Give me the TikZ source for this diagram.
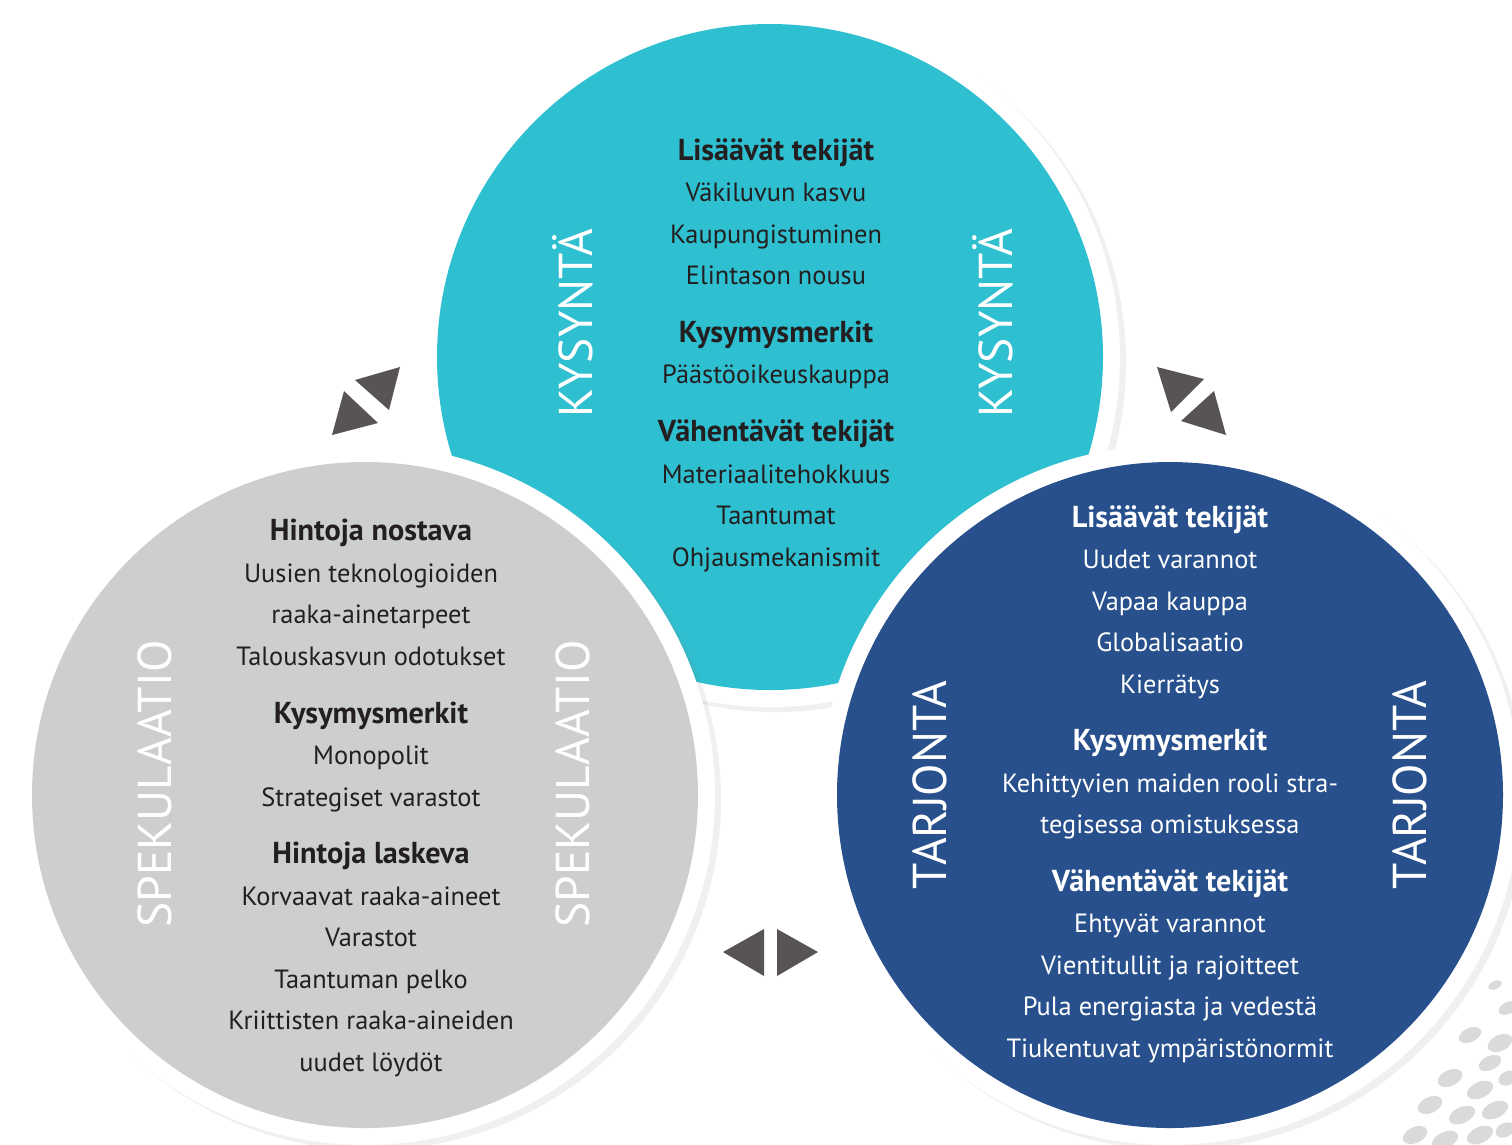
\documentclass[tikz,border=0pt]{standalone}
\usepackage{fontspec}
\setmainfont{PT Sans}
\usetikzlibrary{shadows}
\definecolor{kysynta}{RGB}{46,191,208}
\definecolor{tarjonta}{RGB}{39,80,140}
\definecolor{spekul}{RGB}{205,206,208}
\definecolor{nuoli}{RGB}{88,84,86}
\definecolor{teksti}{RGB}{35,31,32}
\definecolor{pisteet}{RGB}{218,218,218}
\newcommand{\vahva}[1]{{\fontsize{8.6}{11.8}\selectfont\bfseries #1}}

\begin{document}
\begin{tikzpicture}[x=0.01cm,y=-0.01cm,
	rengas/.style={white,drop shadow={opacity=0.12,shadow xshift=0.6mm,shadow yshift=-0.5mm}},
	lista/.style={align=center,font=\fontsize{7.5}{11.8}\selectfont},
	otsake/.style={rotate=90,white,font=\fontsize{13.5}{14}\selectfont},
	nuolet/.style={fill=nuoli}]
	\useasboundingbox (0,0) rectangle (1512,1144);
	\clip (0,0) rectangle (1512,1144);
	\foreach \x/\y/\a/\b in {1495/985/7/4,1508/1008/10/6,1470/1035/12/7,1500/1043/13/8,
		1490/1063/12/7,1450/1078/13/8,1480/1090/14/8,1508/1078/10/7,1430/1105/13/8,
		1462/1115/14/8,1495/1110/14/8,1415/1135/13/8,1445/1140/14/8,1480/1135/14/8,1505/1130/10/7}
		\fill[pisteet,rotate around={25:(\x,\y)}] (\x,\y) ellipse ({\a} and {\b});
	\fill[rengas] (770,357) circle[radius=350];
	\fill[kysynta] (770,357) circle[radius=333];
	\fill[rengas] (365,795) circle[radius=350];
	\fill[spekul] (365,795) circle[radius=333];
	\fill[rengas] (1170,795) circle[radius=350];
	\fill[tarjonta] (1170,795) circle[radius=333];
	\node[otsake] (kys1) at (573,323) {KYSYNTÄ};
	\node[otsake] (kys2) at (993,323) {KYSYNTÄ};
	\node[otsake] (spe1) at (155,784) {SPEKULAATIO};
	\node[otsake] (spe2) at (573,784) {SPEKULAATIO};
	\node[otsake] (tar1) at (930,785) {TARJONTA};
	\node[otsake] (tar2) at (1410,785) {TARJONTA};
	\node[lista,text=teksti] (kysynta) at (776,355) {\vahva{Lisäävät tekijät}\\Väkiluvun kasvu\\Kaupungistuminen\\Elintason nousu\\[4.6pt]
		\vahva{Kysymysmerkit}\\Päästöoikeuskauppa\\[4.6pt]
		\vahva{Vähentävät tekijät}\\Materiaalitehokkuus\\Taantumat\\Ohjausmekanismit};
	\node[lista,text=teksti] (spekulaatio) at (371,798) {\vahva{Hintoja nostava}\\Uusien teknologioiden\\raaka-ainetarpeet\\Talouskasvun odotukset\\[4.6pt]
		\vahva{Kysymysmerkit}\\Monopolit\\Strategiset varastot\\[4.6pt]
		\vahva{Hintoja laskeva}\\Korvaavat raaka-aineet\\Varastot\\Taantuman pelko\\Kriittisten raaka-aineiden\\uudet löydöt};
	\node[lista,text=white] (tarjonta) at (1170,784) {\vahva{Lisäävät tekijät}\\Uudet varannot\\Vapaa kauppa\\Globalisaatio\\Kierrätys\\[4.6pt]
		\vahva{Kysymysmerkit}\\Kehittyvien maiden rooli stra-\\tegisessa omistuksessa\\[4.6pt]
		\vahva{Vähentävät tekijät}\\Ehtyvät varannot\\Vientitullit ja rajoitteet\\Pula energiasta ja vedestä\\Tiukentuvat ympäristönormit};
	\fill[nuolet] (355,380) -- (400,367) -- (389,410) -- cycle;
	\fill[nuolet] (344,391) -- (378,423) -- (332,435) -- cycle;
	\fill[nuolet] (1157,367) -- (1204,379) -- (1171,412) -- cycle;
	\fill[nuolet] (1214,391) -- (1226,435) -- (1181,421) -- cycle;
	\fill[nuolet] (723,952) -- (764,929) -- (764,976) -- cycle;
	\fill[nuolet] (777,929) -- (818,952) -- (777,976) -- cycle;
\end{tikzpicture}
\end{document}
